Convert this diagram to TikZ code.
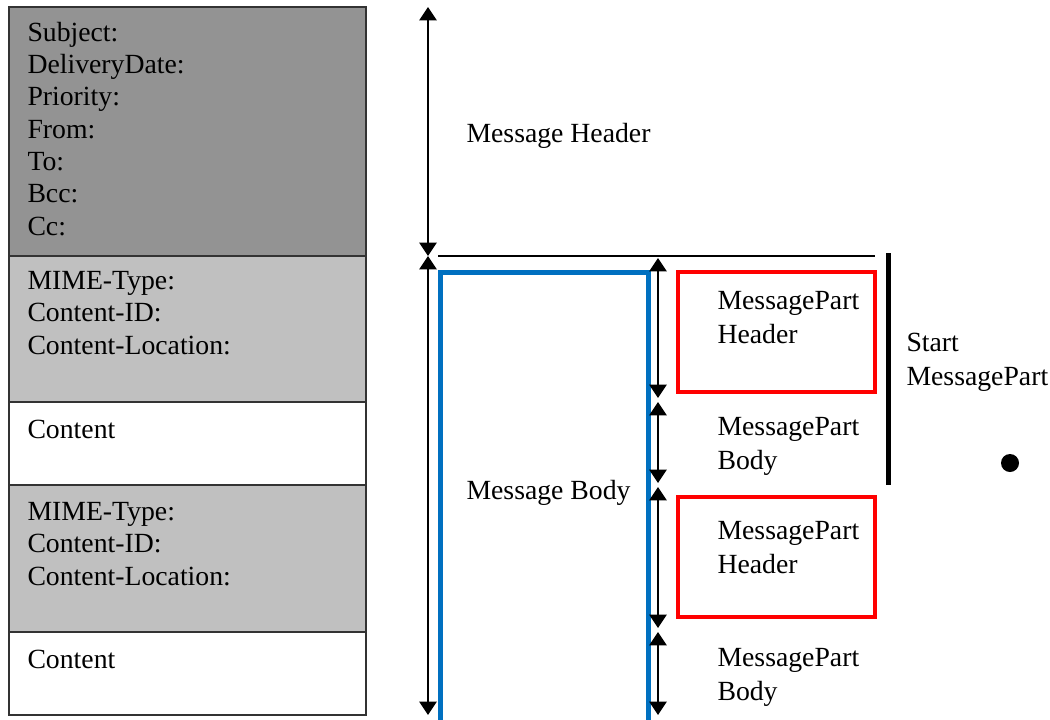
\documentclass[tikz,border=0pt]{standalone}
\usepackage{fontspec}
\setmainfont{Liberation Serif}
\usetikzlibrary{arrows.meta}
\definecolor{hdrgray}{HTML}{939393}
\definecolor{partgray}{HTML}{C0C0C0}
\definecolor{bodyblue}{HTML}{0070C0}
\tikzset{every picture/.style={line width=0.75pt}}

\begin{document}
\begin{tikzpicture}[x=0.75pt,y=0.75pt,yscale=-1,xscale=1,
  lbl/.style={anchor=base west,inner sep=0pt,align=left,font=\fontsize{20.8}{24.2}\selectfont},
  rlbl/.style={lbl,font=\fontsize{20.8}{25}\selectfont},
  cell/.style={draw=black!80,line width=1.5pt},
  dimarrow/.style={{Triangle[length=10pt,width=13pt]}-{Triangle[length=10pt,width=13pt]},line width=1pt},
  partbox/.style={draw=red,line width=3.5pt}]
\useasboundingbox (0,0) rectangle (1050,719);

%Shape: Rectangle [id:hdr] 
\draw  [cell,fill=hdrgray] (9,7) rectangle (366,256) ;
%Shape: Rectangle [id:part1] 
\draw  [cell,fill=partgray] (9,256) rectangle (366,402) ;
%Shape: Rectangle [id:cont1] 
\draw  [cell,fill=white] (9,402) rectangle (366,485) ;
%Shape: Rectangle [id:part2] 
\draw  [cell,fill=partgray] (9,485) rectangle (366,632) ;
%Shape: Rectangle [id:cont2] 
\draw  [cell,fill=white] (9,632) rectangle (366,715) ;

% Text Node (anchored at the baseline of its last line)
\node [lbl] (hdrfields) at (27,235) {Subject:\\DeliveryDate:\\Priority:\\From:\\To:\\Bcc:\\Cc:};
% Text Node
\node [lbl] (mimeA) at (27,354) {MIME-Type:\\Content-ID:\\Content-Location:};
% Text Node
\node [lbl] (contentA) at (27,438) {Content};
% Text Node
\node [lbl] (mimeB) at (27,585) {MIME-Type:\\Content-ID:\\Content-Location:};
% Text Node
\node [lbl] (contentB) at (27,668) {Content};

% message header / body extents
\coordinate (msgtop) at (428,7);
\coordinate (msgsplit) at (428,256);
\coordinate (msgbot) at (428,715);
\draw [dimarrow] (msgtop) -- (msgsplit);
\draw [dimarrow] (msgsplit) -- (msgbot);

% Text Node
\node [lbl] (msghdr) at (466,142) {Message Header};

%Straight Lines [id:splitline] 
\coordinate (splitL) at (438,256);
\coordinate (splitR) at (875,256);
\draw [line width=1.5pt] (splitL) -- (splitR);

%Shape: Rectangle [id:bodybox] 
\draw  [draw=bodyblue,line width=3.75pt] (440,272) rectangle (648,724) ;
% Text Node
\node [lbl] (msgbody) at (466,499) {Message Body};

% part extents
\coordinate (pa) at (658,258);
\coordinate (pb) at (658,398);
\coordinate (pc) at (658,402);
\coordinate (pd) at (658,483);
\coordinate (pe) at (658,487);
\coordinate (pf) at (658,628);
\coordinate (pg) at (658,632);
\coordinate (ph) at (658,715);
\draw [dimarrow] (pa) -- (pb);
\draw [dimarrow] (pc) -- (pd);
\draw [dimarrow] (pe) -- (pf);
\draw [dimarrow] (pg) -- (ph);

%Shape: Rectangle [id:parthdrA] 
\draw  [partbox] (678,272) rectangle (875,392) ;
%Shape: Rectangle [id:parthdrB] 
\draw  [partbox] (678,497) rectangle (875,617) ;

% Text Node
\node [rlbl] (phdrA) at (717,343) {MessagePart\\Header};
% Text Node
\node [rlbl] (pbodyA) at (717,469) {MessagePart\\Body};
% Text Node
\node [rlbl] (phdrB) at (717,573) {MessagePart\\Header};
% Text Node
\node [rlbl] (pbodyB) at (717,700) {MessagePart\\Body};

%Straight Lines [id:startbar] 
\coordinate (barT) at (888,253);
\coordinate (barB) at (888,485);
\draw [line width=3.75pt] (barT) -- (barB);
% Text Node
\node [rlbl] (startpart) at (906,385) {Start\\MessagePart};

%Shape: Circle [id:dot] 
\fill (1010,463) circle (9) ;

\end{tikzpicture}
\end{document}
